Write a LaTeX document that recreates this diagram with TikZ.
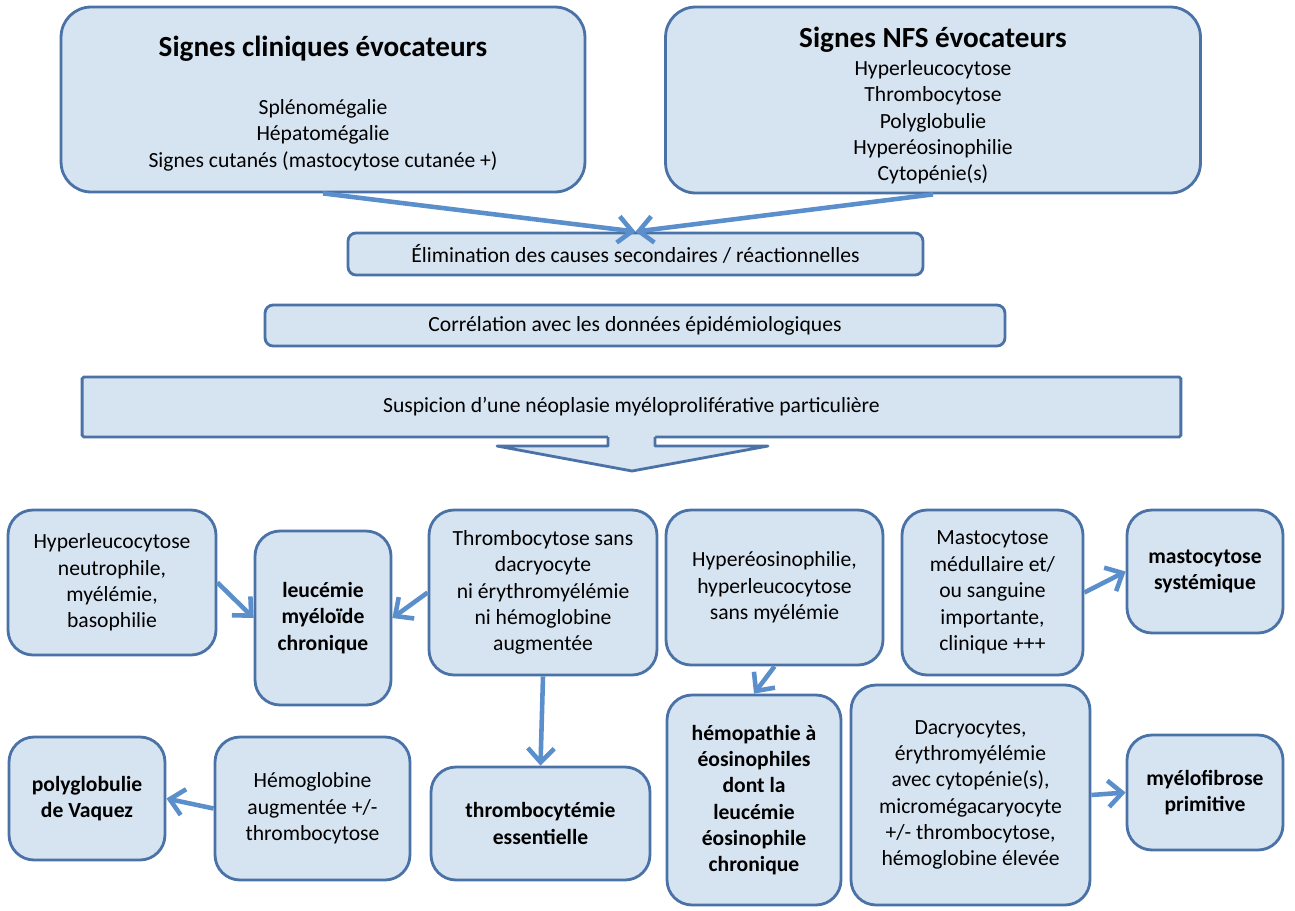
\documentclass[tikz,border=0pt]{standalone}
\usepackage{fontspec}
\setmainfont{Carlito}
\usetikzlibrary{arrows.meta}

\definecolor{boxfill}{RGB}{214,227,240}
\definecolor{boxline}{RGB}{74,114,166}
\definecolor{arrowblue}{RGB}{91,143,203}
\newcommand{\titlefont}{\fontsize{16.6}{19}\selectfont\bfseries}

\begin{document}
\begin{tikzpicture}[
        x=0.02cm,
        y=-0.02cm,
        box/.style={draw=boxline, fill=boxfill, line width=1.6pt, rounded corners=0.5cm,
            align=center, inner sep=2pt, font=\fontsize{12.3}{15}\selectfont},
        bigbox/.style={box, rounded corners=0.6cm},
        bar/.style={box, rounded corners=0.16cm},
        result/.style={box, font=\fontsize{12.3}{15}\selectfont\bfseries},
        link/.style={draw=arrowblue, line width=2.6pt, -{Straight Barb[length=8pt,width=15pt]}}
    ]
    \useasboundingbox (0,0) rectangle (1295,910);

    % signes d'appel
    \node[bigbox, minimum width=10.48cm, minimum height=3.7cm] (clin) at (323,99.5)
        {\rule{0pt}{16pt}{\titlefont Signes cliniques évocateurs}\\[18pt]
         Splénomégalie\\ Hépatomégalie\\ Signes cutanés (mastocytose cutanée +)};
    \node[bigbox, minimum width=10.7cm, minimum height=3.72cm] (nfs) at (933,100)
        {\rule{0pt}{18pt}{\titlefont Signes NFS évocateurs}\\[1pt]
         Hyperleucocytose\\ Thrombocytose\\ Polyglobulie\\ Hyperéosinophilie\\ Cytopénie(s)};

    % demarche
    \node[bar, minimum width=11.5cm, minimum height=0.84cm] (elim) at (635.5,254)
        {Élimination des causes secondaires / réactionnelles};
    \node[bar, minimum width=14.8cm, minimum height=0.82cm] (corr) at (635,325.5)
        {Corrélation avec les données épidémiologiques};
    \node[box, rounded corners=1pt, minimum width=21.98cm, minimum height=1.2cm] (susp) at (631.5,407)
        {Suspicion d’une néoplasie myéloproliférative particulière};

    \draw[link] (clin.south) -- (elim.north);
    \draw[link] (nfs.south) -- (elim.north);

    % fleche epaisse
    \fill[boxfill] (608,433) -- (608,446) -- (497,446) -- (632,471) -- (768,446) -- (655,446) -- (655,433) -- cycle;
    \draw[boxline, line width=1.6pt, line join=round]
        (608,437) -- (608,446) -- (497,446) -- (632,471) -- (768,446) -- (655,446) -- (655,437);

    % criteres et diagnostics
    \node[box, minimum width=4.16cm, minimum height=2.9cm] (neut) at (112,582.5)
        {Hyperleucocytose\\ neutrophile,\\ myélémie,\\ basophilie};
    \node[result, minimum width=2.72cm, minimum height=3.48cm] (lmc) at (323,618)
        {leucémie\\ myéloïde\\ chronique};
    \node[box, minimum width=4.56cm, minimum height=3.3cm] (thromb) at (543,592.5)
        {Thrombocytose sans\\ dacryocyte\\ ni érythromyélémie\\ ni hémoglobine\\ augmentée};
    \node[box, minimum width=4.34cm, minimum height=3.1cm] (eosino) at (774.5,587.5)
        {Hyperéosinophilie,\\ hyperleucocytose\\ sans myélémie};
    \node[box, minimum width=3.62cm, minimum height=3.3cm] (masto) at (992.5,592.5)
        {Mastocytose\\ médullaire et/\\ ou sanguine\\ importante,\\ clinique +++};
    \node[result, minimum width=3.12cm, minimum height=2.46cm] (ms) at (1205,571.5)
        {mastocytose\\ systémique};

    \node[result, minimum width=3.12cm, minimum height=2.46cm] (pv) at (87,798.5)
        {polyglobulie\\ de Vaquez};
    \node[box, minimum width=3.9cm, minimum height=2.86cm] (hb) at (312.5,808.5)
        {Hémoglobine\\ augmentée +/-\\ thrombocytose};
    \node[result, minimum width=4.38cm, minimum height=2.26cm] (te) at (540.5,823.5)
        {thrombocytémie\\ essentielle};
    \node[result, minimum width=3.48cm, minimum height=4.2cm] (heo) at (754,800)
        {hémopathie à\\ éosinophiles\\ dont la\\ leucémie\\ éosinophile\\ chronique};
    \node[box, minimum width=4.78cm, minimum height=4.4cm] (dacryo) at (970.5,795)
        {Dacryocytes,\\ érythromyélémie\\ avec cytopénie(s),\\ micromégacaryocyte\\ +/- thrombocytose,\\ hémoglobine élevée};
    \node[result, minimum width=3.12cm, minimum height=2.3cm] (mfp) at (1205,792.5)
        {myélofibrose\\ primitive};

    \draw[link] (neut.east) -- (lmc.west);
    \draw[link] (thromb.west) -- (lmc.east);
    \draw[link] (thromb.south) -- (te.north);
    \draw[link] (eosino.south) -- (heo.north);
    \draw[link] (masto.east) -- (ms.west);
    \draw[link] (hb.west) -- (pv.east);
    \draw[link] (dacryo.east) -- (mfp.west);

\end{tikzpicture}
\end{document}
